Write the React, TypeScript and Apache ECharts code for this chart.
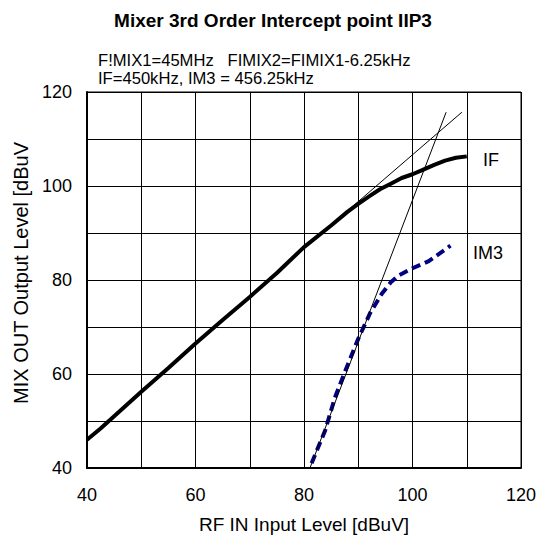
import React, { useEffect, useRef } from "react";
import * as echarts from "echarts";

const ifX = [40, 42.5, 45, 50, 55, 60, 65, 70, 75, 80, 85, 88, 90, 92, 94, 96, 98, 100, 102, 104, 106, 108, 110];
const ifY = [46, 48.4, 51, 56.2, 61.3, 66.5, 71.5, 76.4, 81.5, 87, 91.6, 94.5, 96.2, 97.8, 99.3, 100.5, 101.7, 102.5, 103.5, 104.5, 105.4, 106, 106.3];
const im3X = [81.4, 83.9, 85.7, 87.9, 90, 92.2, 94.3, 96, 97.5, 100, 103, 107];
const im3Y = [41, 48, 55, 61.5, 67.5, 73, 77, 79.5, 81, 82.5, 84, 87.3];
const ifTangentX = [88, 109.1];
const ifTangentY = [94.7, 115.7];
const im3TangentX = [81.1, 106.2];
const im3TangentY = [40, 115.7];
const xTicks = [40, 60, 80, 100, 120];
const yTicks = [40, 60, 80, 100, 120];

const titleText = "Mixer 3rd Order Intercept point IIP3";
const noteLine1 = "F!MIX1=45MHz   FIMIX2=FIMIX1-6.25kHz";
const noteLine2 = "IF=450kHz, IM3 = 456.25kHz";
const xName = "RF IN Input Level [dBuV]";
const yName = "MIX OUT Output Level [dBuV";

const FONT = "'Liberation Sans', Arial, Helvetica, sans-serif";

const zip = (xs: number[], ys: number[]) => xs.map((x, i) => [x, ys[i]]);

export default function App() {
  const ref = useRef<HTMLDivElement>(null);
  useEffect(() => {
    document.body.style.margin = "0";
    if (!ref.current) return;
    const chart = echarts.init(ref.current, null, { renderer: "svg" });
    chart.setOption({
      animation: false,
      backgroundColor: "#ffffff",
      textStyle: { fontFamily: FONT },
      grid: { left: 87, right: 18, top: 92, bottom: 70, outerBoundsMode: "none" },
      xAxis: {
        type: "value",
        min: 40,
        max: 120,
        interval: 10,
        axisLine: { show: true, lineStyle: { color: "#000", width: 2 } },
        axisTick: { show: false },
        splitLine: { show: true, lineStyle: { color: "#000", width: 1 } },
        axisLabel: {
          color: "#000",
          fontSize: 18,
          fontFamily: FONT,
          margin: 18,
          formatter: (v: number) => (xTicks.includes(v) ? String(v) : ""),
        },
      },
      yAxis: {
        type: "value",
        min: 40,
        max: 120,
        interval: 10,
        axisLine: { show: true, lineStyle: { color: "#000", width: 2 } },
        axisTick: { show: false },
        splitLine: { show: true, lineStyle: { color: "#000", width: 1 } },
        axisLabel: {
          color: "#000",
          fontSize: 18,
          fontFamily: FONT,
          margin: 15,
          formatter: (v: number) => (yTicks.includes(v) ? String(v) : ""),
        },
      },
      graphic: [
        {
          type: "rect",
          shape: { x: 87, y: 92, width: 434, height: 376 },
          style: { fill: "none", stroke: "#000", lineWidth: 1 },
          silent: true,
          z: -1,
        },
        {
          type: "text",
          x: 273,
          y: 20,
          style: { text: titleText, fontSize: 19, fontWeight: "bold", fontFamily: FONT, fill: "#000", align: "center", verticalAlign: "middle" },
        },
        {
          type: "text",
          x: 98,
          y: 60,
          style: { text: noteLine1, fontSize: 16.6, fontFamily: FONT, fill: "#000", align: "left", verticalAlign: "middle" },
        },
        {
          type: "text",
          x: 98,
          y: 78,
          style: { text: noteLine2, fontSize: 16.6, fontFamily: FONT, fill: "#000", align: "left", verticalAlign: "middle" },
        },
        {
          type: "text",
          x: 304,
          y: 524,
          style: { text: xName, fontSize: 19, fontFamily: FONT, fill: "#000", align: "center", verticalAlign: "middle" },
        },
        {
          type: "text",
          x: 21,
          y: 273,
          rotation: Math.PI / 2,
          style: { text: yName, fontSize: 20, fontFamily: FONT, fill: "#000", align: "center", verticalAlign: "middle" },
        },
        {
          type: "text",
          x: 491,
          y: 160,
          style: { text: "IF", fontSize: 18, fontFamily: FONT, fill: "#000", align: "center", verticalAlign: "middle" },
        },
        {
          type: "text",
          x: 488,
          y: 253,
          style: { text: "IM3", fontSize: 18, fontFamily: FONT, fill: "#000", align: "center", verticalAlign: "middle" },
        },
      ],
      series: [
        {
          name: "IF",
          type: "line",
          data: zip(ifX, ifY),
          showSymbol: false,
          symbol: "none",
          lineStyle: { color: "#000", width: 4 },
          z: 3,
        },
        {
          name: "IM3",
          type: "line",
          data: zip(im3X, im3Y),
          showSymbol: false,
          symbol: "none",
          lineStyle: { color: "#000080", width: 4, type: [9, 5] },
          z: 3,
        },
        {
          name: "IF tangent",
          type: "line",
          data: zip(ifTangentX, ifTangentY),
          showSymbol: false,
          symbol: "none",
          lineStyle: { color: "#000", width: 1 },
          z: 4,
        },
        {
          name: "IM3 tangent",
          type: "line",
          data: zip(im3TangentX, im3TangentY),
          showSymbol: false,
          symbol: "none",
          lineStyle: { color: "#000", width: 1 },
          z: 4,
        },
      ],
    });
    return () => chart.dispose();
  }, []);
  return <div ref={ref} style={{ width: 539, height: 538 }} />;
}
